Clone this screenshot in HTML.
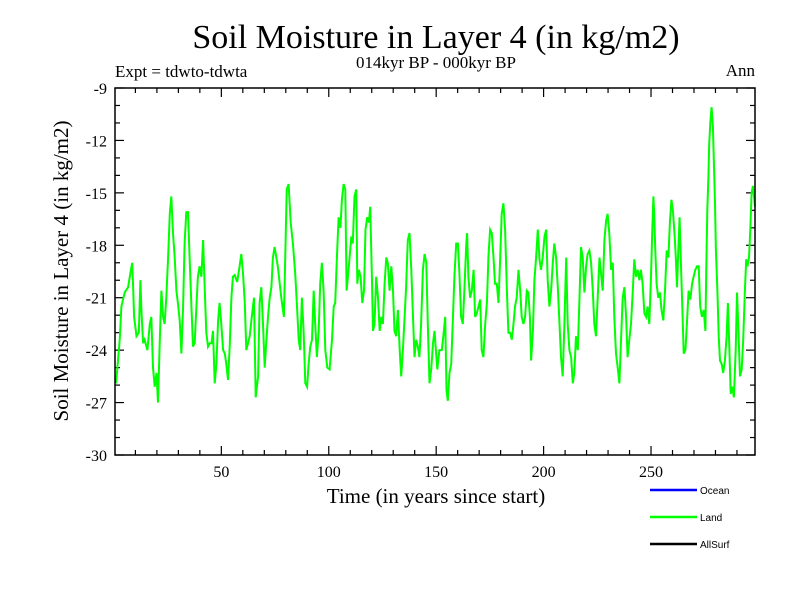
<!DOCTYPE html>
<html><head><meta charset="utf-8"><style>
body{margin:0;background:#fff}
svg text{font-family:"Liberation Serif",serif}
</style></head><body>
<svg id="chart" width="800" height="600" viewBox="0 0 800 600" xmlns="http://www.w3.org/2000/svg">
<rect width="800" height="600" fill="#fff"/>
<text x="436" y="48" font-size="34" text-anchor="middle">Soil Moisture in Layer 4 (in kg/m2)</text>
<text x="436" y="68" font-size="17" text-anchor="middle">014kyr BP - 000kyr BP</text>
<text x="115" y="77" font-size="17">Expt = tdwto-tdwta</text>
<text x="755" y="76" font-size="17" text-anchor="end">Ann</text>
<text transform="translate(68,271) rotate(-90)" font-size="21" text-anchor="middle">Soil Moisture in Layer 4 (in kg/m2)</text>
<text x="436" y="503" font-size="21" text-anchor="middle">Time (in years since start)</text>
<g id="ticks"></g>
<g id="series"></g>
<rect x="115" y="88" width="640" height="367" fill="none" stroke="#000" stroke-width="1.5"/>
<g font-family="Liberation Sans,sans-serif">
<line x1="650" y1="490" x2="697" y2="490" stroke="#0000ff" stroke-width="2.5"/>
<text x="700" y="494" font-size="10" style="font-family:'Liberation Sans',sans-serif">Ocean</text>
<line x1="650" y1="517" x2="697" y2="517" stroke="#00ff00" stroke-width="2.5"/>
<text x="700" y="521" font-size="10" style="font-family:'Liberation Sans',sans-serif">Land</text>
<line x1="650" y1="544" x2="697" y2="544" stroke="#000" stroke-width="2.5"/>
<text x="700" y="548" font-size="10" style="font-family:'Liberation Sans',sans-serif">AllSurf</text>
</g>
</svg>
<script>
const years=[1.0,2.7,3.5,5.0,6.6,7.4,8.5,8.9,9.4,10.5,11.6,12.3,12.8,13.6,14.3,15.6,16.7,17.4,18.2,19.0,19.8,20.5,21.3,22.1,22.9,23.6,24.4,25.2,26.0,26.7,27.5,28.3,29.1,29.8,30.6,31.4,32.2,32.9,33.7,34.5,35.3,36.0,36.8,37.6,38.4,39.1,39.9,40.7,41.5,42.3,43.0,43.8,44.6,45.4,46.1,46.9,47.7,48.5,49.2,50.0,50.8,51.6,52.3,53.1,53.9,54.7,55.4,56.2,57.4,58.5,59.3,60.1,60.9,61.6,62.4,63.2,64.0,65.2,66.0,67.1,67.8,68.6,69.4,70.2,70.9,71.7,72.5,73.3,74.0,74.8,
76.3,77.9,79.1,79.8,80.4,81.3,82.3,83.3,84.4,85.2,86.0,86.7,87.5,88.3,89.1,89.9,90.6,91.4,92.2,93.0,93.7,94.5,95.3,96.0,96.8,97.6,98.4,99.3,100.4,101.5,102.3,103.0,103.8,104.6,105.4,106.1,106.9,107.7,108.3,108.9,109.7,110.5,111.2,112.0,112.8,113.3,114.0,114.8,115.6,116.4,117.1,117.9,118.7,119.3,120.1,120.6,121.3,122.1,122.9,123.7,124.4,125.2,126.0,126.8,127.5,128.3,129.1,129.9,130.6,131.4,132.2,133.0,133.7,134.5,135.3,136.0,136.8,137.6,138.4,139.2,139.9,140.7,141.5,142.2,143.0,143.8,144.6,145.4,146.1,146.9,147.7,148.5,149.2,
150.5,151.5,152.6,153.6,154.2,154.8,155.4,156.2,157.0,157.7,158.5,159.3,160.1,160.8,161.6,162.4,163.2,164.0,164.4,165.0,165.8,166.6,167.4,168.1,168.9,169.7,170.5,171.2,172.0,172.8,173.6,174.3,175.1,175.9,176.7,177.4,178.2,179.0,179.8,180.5,181.3,182.1,182.9,183.6,184.4,185.2,186.0,186.7,187.5,188.3,189.1,189.8,190.6,191.4,192.2,192.9,193.6,194.2,195.0,195.7,196.5,197.3,198.1,198.8,199.6,200.4,201.2,201.9,202.7,203.5,204.3,205.0,205.8,206.6,207.4,208.1,208.9,209.7,210.5,211.2,212.0,212.8,213.6,214.3,215.1,215.9,216.7,217.4,218.2,219.0,219.8,220.5,221.3,222.1,
222.9,223.6,224.4,225.2,226.0,226.7,227.5,228.3,229.1,229.8,230.6,231.4,232.2,232.9,233.7,234.5,235.3,236.0,236.8,237.6,238.4,239.1,239.9,240.7,241.5,242.2,243.0,243.8,244.6,245.3,246.1,246.9,247.7,248.4,249.2,250.0,250.5,251.1,251.5,252.0,252.6,253.4,254.2,254.9,255.7,256.5,257.3,258.1,258.8,259.5,260.2,261.0,261.6,262.1,262.7,263.3,263.9,264.6,265.2,266.0,266.7,267.5,268.3,269.1,269.8,270.6,271.4,272.2,272.9,273.7,274.5,275.3,275.7,276.2,276.7,277.1,277.6,278.2,278.8,279.3,279.8,280.2,280.9,281.5,282.1,282.9,283.6,284.4,285.2,285.8,286.4,287.1,287.8,288.6,289.4,290.0,290.6,291.4,292.2,292.9,293.7,294.3,294.9,295.6,296.2,296.8,297.4,298.4];
const landValues=[-25.9,-23.4,-21.5,-20.7,-20.4,-19.8,-19.0,-20.2,-22.1,-23.2,-23.0,-20.0,-21.7,-23.6,-23.4,-24.0,-22.5,-22.1,-25.0,-26.1,-25.3,-27.0,-23.6,-20.6,-22.1,-22.5,-21.0,-18.7,-16.2,-15.2,-17.3,-18.7,-20.6,-21.3,-22.3,-24.2,-21.5,-17.9,-16.1,-16.1,-19.0,-21.3,-23.8,-23.6,-21.5,-19.8,-19.2,-19.8,-17.7,-20.6,-23.0,-23.8,-23.6,-23.6,-22.9,-25.9,-24.8,-22.3,-21.3,-22.5,-24.0,-24.2,-24.8,-25.7,-23.8,-21.0,-19.8,-19.7,-20.1,-19.2,-18.5,-19.6,-21.3,-24.0,-23.6,-23.2,-22.3,-21.0,-26.7,-25.5,-21.3,-20.4,-22.5,-25.0,-23.6,-22.1,-21.0,-20.4,-18.7,-18.1,
-19.2,-21.0,-22.1,-18.3,-14.8,-14.5,-16.7,-17.9,-19.6,-21.5,-23.4,-24.0,-21.0,-22.9,-25.9,-26.1,-24.8,-23.8,-23.4,-20.6,-22.5,-24.4,-22.9,-20.2,-19.0,-20.6,-24.0,-25.0,-25.1,-23.4,-21.5,-21.3,-18.7,-16.4,-17.0,-15.4,-14.5,-14.8,-20.6,-19.8,-18.7,-17.5,-17.9,-15.2,-14.8,-20.2,-19.4,-19.8,-21.3,-20.6,-17.1,-16.4,-16.7,-15.8,-19.8,-22.9,-22.5,-19.8,-21.0,-22.9,-22.1,-22.5,-20.2,-18.7,-19.0,-20.6,-19.2,-20.6,-22.9,-23.2,-21.7,-24.0,-25.5,-24.0,-22.1,-20.4,-17.7,-17.3,-19.4,-22.1,-24.4,-23.4,-23.8,-24.4,-22.5,-19.4,-18.5,-19.0,-22.5,-25.9,-25.1,-23.6,-22.9,
-25.1,-24.0,-24.0,-22.9,-22.1,-26.3,-26.9,-25.3,-24.8,-22.5,-19.8,-17.9,-17.9,-19.6,-22.1,-22.5,-20.4,-17.9,-17.3,-19.8,-21.0,-20.6,-19.4,-22.1,-21.9,-21.5,-21.1,-24.0,-24.4,-22.5,-21.3,-18.7,-17.1,-17.3,-18.7,-20.2,-20.2,-21.3,-18.7,-16.2,-15.6,-17.1,-20.6,-23.0,-23.0,-23.4,-22.5,-21.5,-21.0,-19.4,-20.6,-22.1,-22.5,-22.1,-20.6,-20.7,-22.1,-24.6,-22.9,-20.0,-18.7,-17.1,-18.8,-19.4,-18.7,-17.5,-17.1,-20.0,-21.5,-20.6,-19.0,-17.9,-18.7,-20.4,-22.5,-24.4,-25.5,-22.5,-18.7,-22.5,-24.0,-24.4,-25.9,-25.3,-23.2,-24.0,-21.0,-18.1,-18.7,-20.7,-19.2,-18.5,-18.3,-19.0,
-20.6,-22.5,-23.2,-21.0,-18.7,-19.6,-20.6,-17.7,-16.6,-16.2,-17.3,-19.4,-19.0,-22.1,-24.2,-25.0,-25.9,-23.6,-21.0,-20.4,-22.1,-24.4,-23.4,-22.5,-20.6,-18.8,-19.8,-19.4,-20.0,-19.4,-20.2,-21.9,-22.1,-21.5,-22.5,-19.8,-17.5,-15.2,-16.2,-18.3,-20.2,-21.0,-20.7,-21.7,-22.3,-20.6,-18.3,-18.7,-16.7,-15.4,-16.0,-17.5,-18.8,-20.4,-18.3,-16.4,-19.0,-21.7,-24.2,-24.0,-22.5,-20.6,-21.1,-20.2,-19.8,-19.4,-19.2,-19.2,-21.5,-22.1,-21.7,-22.9,-19.6,-16.0,-14.1,-12.2,-11.0,-10.1,-11.2,-13.5,-15.6,-18.3,-20.6,-23.2,-24.6,-24.8,-25.3,-24.6,-23.2,-21.3,-23.6,-26.5,-26.1,-26.7,-24.0,-20.7,-22.5,-25.5,-25.1,-23.4,-20.6,-18.8,-19.2,-18.7,-17.1,-15.0,-14.6,-15.8];
const yTickLabels=[-9,-12,-15,-18,-21,-24,-27,-30];
const xTickLabels=[50,100,150,200,250];
const xMin=0.5,xMax=298.4,yMin=-30,yMax=-9;
const L=115,R=755,T=88,B=455;
const NS='http://www.w3.org/2000/svg';
function xs(v){return L+(v-xMin)/(xMax-xMin)*(R-L);}
function ys(v){return B-(v-yMin)/(yMax-yMin)*(B-T);}
function mk(tag,attrs,parent){const e=document.createElementNS(NS,tag);for(const k in attrs)e.setAttribute(k,attrs[k]);parent.appendChild(e);return e;}
const tg=document.getElementById('ticks');
for(let v=yMin;v<=yMax;v++){
  const major=(v%3===0);const len=major?9:5;const y=ys(v);
  const a=mk('line',{x1:L,y1:y,x2:L+len,y2:y,stroke:'#000','stroke-width':1.2},tg);
  
  
  const b=mk('line',{x1:R,y1:y,x2:R-len,y2:y,stroke:'#000','stroke-width':1.2},tg);
  
  
}
yTickLabels.forEach(v=>{
  const t=mk('text',{x:L-8,y:ys(v)+6,'font-size':16,'text-anchor':'end'},tg);
  t.textContent=v;
  
  
});
for(let v=10;v<xMax;v+=10){
  const major=(v%50===0);const len=major?9:5;const x=xs(v);
  const a=mk('line',{x1:x,y1:B,x2:x,y2:B-len,stroke:'#000','stroke-width':1.2},tg);
  
  
  const b=mk('line',{x1:x,y1:T,x2:x,y2:T+len,stroke:'#000','stroke-width':1.2},tg);
  
  
}
xTickLabels.forEach(v=>{
  const t=mk('text',{x:xs(v),y:B+22,'font-size':16,'text-anchor':'middle'},tg);
  t.textContent=v;
  
  
});
const pts=years.map((yr,i)=>xs(yr).toFixed(1)+','+ys(landValues[i]).toFixed(1)).join(' ');
const line=mk('polyline',{points:pts,fill:'none',stroke:'#00ff00','stroke-width':2,'stroke-linejoin':'miter'},document.getElementById('series'));


</script>
</body></html>
